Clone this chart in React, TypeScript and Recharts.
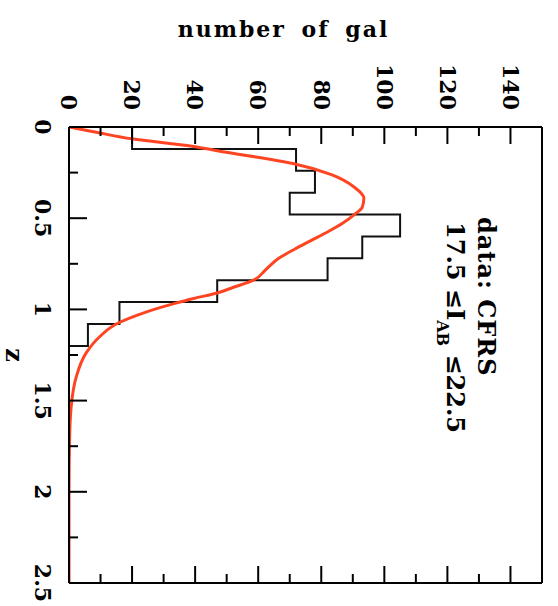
import { ComposedChart, Line, XAxis, YAxis } from "recharts";

// histogram of CFRS redshifts (bin edges in z, counts per bin)
const binEdges = [0, 0.12, 0.24, 0.36, 0.48, 0.6, 0.72, 0.84, 0.96, 1.08, 1.2];
const binCounts = [20, 72, 78, 70, 105, 93, 82, 47, 16, 6];

// model curve
const curveZ = [0, 0.03, 0.065, 0.105, 0.13, 0.2, 0.26, 0.33, 0.39, 0.44, 0.48, 0.53, 0.57, 0.62, 0.67, 0.72, 0.78, 0.84, 0.88, 0.91, 0.94, 0.97, 1.02, 1.08, 1.15, 1.24, 1.37, 1.53, 1.7, 2.0, 2.5];
const curveN = [0, 9, 20, 39, 47, 71, 83, 90.5, 93.5, 93, 90.5, 86.5, 82.5, 77, 71.5, 66.5, 62.5, 58.5, 52, 47, 39.5, 33, 23.5, 15, 9.7, 5.4, 2.3, 0.7, 0.2, 0, 0];

const nTicks = [0, 10, 20, 30, 40, 50, 60, 70, 80, 90, 100, 110, 120, 130, 140];
const zTicks = [0, 0.25, 0.5, 0.75, 1, 1.25, 1.5, 1.75, 2, 2.25, 2.5];

const W = 558;
const H = 606;
const LEFT = 69;
const RIGHT = 542;
const TOP = 127;
const BOTTOM = 583;

const FONT = "'DejaVu Serif', serif";

const histData: { z: number; n: number }[] = [{ z: binEdges[0], n: 0 }];
binCounts.forEach((c, i) => {
  histData.push({ z: binEdges[i], n: c });
  histData.push({ z: binEdges[i + 1], n: c });
});
histData.push({ z: binEdges[binEdges.length - 1], n: 0 });

const curveData = curveZ.map((z, i) => ({ z, n: curveN[i] }));

const isMajorN = (v: number) => v % 20 === 0;
const isMajorZ = (v: number) => Math.abs(v * 2 - Math.round(v * 2)) < 1e-6;

function TopTick(props: any) {
  const { x, payload } = props;
  const major = isMajorN(payload.value);
  return (
    <g>
      <line x1={x} x2={x} y1={TOP} y2={TOP + (major ? 17 : 9)} stroke="#000" strokeWidth={2} />
      {major && (
        <text
          transform={`translate(${x},110) rotate(90)`}
          textAnchor="end"
          dy="0.35em"
          fontFamily={FONT}
          fontWeight="bold"
          fontSize={22}
          fill="#000"
        >
          {payload.value}
        </text>
      )}
    </g>
  );
}

function BottomTick(props: any) {
  const { x, payload } = props;
  const major = isMajorN(payload.value);
  return <line x1={x} x2={x} y1={BOTTOM} y2={BOTTOM - (major ? 17 : 9)} stroke="#000" strokeWidth={2} />;
}

function LeftTick(props: any) {
  const { y, payload } = props;
  const major = isMajorZ(payload.value);
  return (
    <g>
      <line x1={LEFT} x2={LEFT + (major ? 18 : 9)} y1={y} y2={y} stroke="#000" strokeWidth={2} />
      {major && (
        <text
          transform={`translate(43,${y}) rotate(90)`}
          textAnchor="middle"
          dy="0.35em"
          fontFamily={FONT}
          fontWeight="bold"
          fontSize={22}
          fill="#000"
        >
          {String(payload.value)}
        </text>
      )}
    </g>
  );
}

function RightTick(props: any) {
  const { y, payload } = props;
  const major = isMajorZ(payload.value);
  return <line x1={RIGHT} x2={RIGHT - (major ? 18 : 9)} y1={y} y2={y} stroke="#000" strokeWidth={2} />;
}

export default function App() {
  return (
    <div style={{ position: "absolute", left: 0, top: 0, width: W, height: H, background: "#fff" }}>
      <ComposedChart
        width={W}
        height={H}
        layout="vertical"
        margin={{ top: TOP - 30, bottom: H - BOTTOM - 10, left: LEFT - 40, right: W - RIGHT - 10 }}
      >
        <XAxis
          xAxisId="top"
          orientation="top"
          type="number"
          dataKey="n"
          domain={[0, 150]}
          allowDataOverflow
          ticks={nTicks}
          interval={0}
          height={30}
          tickLine={false}
          axisLine={{ stroke: "#000", strokeWidth: 2 }}
          tick={TopTick}
        />
        <XAxis
          xAxisId="bottom"
          orientation="bottom"
          type="number"
          domain={[0, 150]}
          allowDataOverflow
          ticks={nTicks}
          interval={0}
          height={10}
          tickLine={false}
          axisLine={{ stroke: "#000", strokeWidth: 2 }}
          tick={BottomTick}
        />
        <YAxis
          yAxisId="left"
          orientation="left"
          type="number"
          dataKey="z"
          domain={[0, 2.5]}
          allowDataOverflow
          ticks={zTicks}
          interval={0}
          width={40}
          tickLine={false}
          axisLine={{ stroke: "#000", strokeWidth: 2 }}
          tick={LeftTick}
        />
        <YAxis
          yAxisId="right"
          orientation="right"
          type="number"
          domain={[0, 2.5]}
          allowDataOverflow
          ticks={zTicks}
          interval={0}
          width={10}
          tickLine={false}
          axisLine={{ stroke: "#000", strokeWidth: 2 }}
          tick={RightTick}
        />
        <Line
          xAxisId="top"
          yAxisId="left"
          data={histData}
          dataKey="n"
          type="linear"
          stroke="#111"
          strokeWidth={2}
          dot={false}
          activeDot={false}
          isAnimationActive={false}
        />
        <Line
          xAxisId="top"
          yAxisId="left"
          data={curveData}
          dataKey="n"
          type="monotone"
          stroke="#ff4422"
          strokeWidth={3}
          dot={false}
          activeDot={false}
          isAnimationActive={false}
        />
      </ComposedChart>
      <svg
        width={W}
        height={H}
        style={{ position: "absolute", left: 0, top: 0, pointerEvents: "none" }}
        fontFamily={FONT}
        fontWeight="bold"
        fill="#000"
      >
        <text x={283.5} y={37} textAnchor="middle" fontSize={22} letterSpacing={2} wordSpacing={6}>
          number of gal
        </text>
        <text transform="translate(12.5,355) rotate(90)" textAnchor="middle" dy="0.27em" fontSize={24}>
          z
        </text>
        <text transform="translate(487,217) rotate(90)" dy="0.37em" fontSize={24} letterSpacing={1}>
          data: CFRS
        </text>
        <text transform="translate(456,222) rotate(90)" dy="0.36em" fontSize={24}>
          <tspan>17.5 ≤I</tspan>
          <tspan dy={10} fontSize={16}>AB</tspan>
          <tspan dy={-10}> ≤22.5</tspan>
        </text>
      </svg>
    </div>
  );
}
